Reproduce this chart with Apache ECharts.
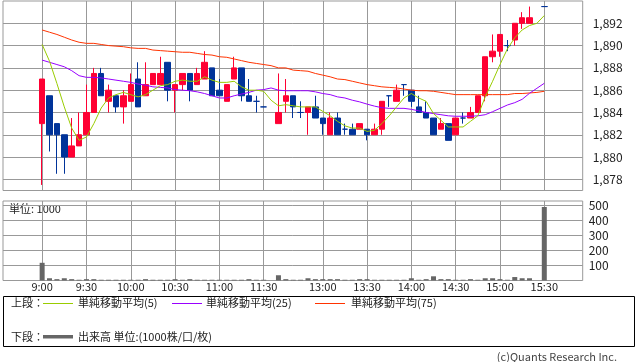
<!DOCTYPE html>
<html><head><meta charset="utf-8">
<script src="https://cdn.jsdelivr.net/npm/echarts@6/dist/echarts.min.js"></script>
<style>html,body{margin:0;padding:0;background:#fff}#c{width:638px;height:362px}</style>
</head><body><div id="c"></div><script>
const times = ['9:00','9:05','9:10','9:15','9:20','9:25','9:30','9:35','9:40','9:45','9:50','9:55',
 '10:00','10:05','10:10','10:15','10:20','10:25','10:30','10:35','10:40','10:45','10:50','10:55',
 '11:00','11:05','11:10','11:15','11:20','11:25','11:30','',
 '12:30','12:35','12:40','12:45','12:50','12:55','13:00','13:05','13:10','13:15','13:20','13:25',
 '13:30','13:35','13:40','13:45','13:50','13:55','14:00','14:05','14:10','14:15','14:20','14:25',
 '14:30','14:35','14:40','14:45','14:50','14:55','15:00','15:05','15:10','15:15','15:20','15:25','15:30'];
const open  = [1883,1885.5,1883,1882,1880,1881,1882,1884,1887.5,1885,1885.5,1884.5,1885,1887,1885.5,1886.5,
 1886.5,1888.5,1886,1886.5,1887.5,1886.5,1887,1888,1886,1885,1887,1888,1885.5,1885,1884.5,null,
 1883,1885,1885.5,1884,1884,1884.5,1883.5,1882,1883.5,1882.5,1882.5,1882.5,1882.5,1882,1882.5,1885.5,
 1885,1886.5,1886,1884.5,1884,1883.5,1882.5,1883,1882,1883.5,1883.5,1884,1885.5,1889,1889.5,1890,
 1890.5,1892,1892,null,1893.5];
const close = [1887,1882,1882,1880,1881,1882,1884,1887.5,1885.5,1886,1884.5,1885.5,1886.5,1884.5,1886.5,1887.5,
 1887.5,1886,1886.5,1887.5,1886,1887.5,1888.5,1885.5,1885.5,1886.5,1888,1885.5,1885,1885,1884.5,null,
 1884,1885.5,1884.5,1884,1884.5,1883.5,1883,1883.5,1882,1882.5,1882,1883,1882,1882.5,1885,1885.5,
 1886,1886.5,1885,1884,1883.5,1882,1883,1881.5,1883.5,1883.5,1884,1885.5,1889,1889.5,1891,1890,
 1892,1892.5,1892.5,null,1893.5];
const low   = [1877.5,1880.5,1878.5,1878.5,1880,1881,1882,1884,1885.5,1884,1884,1883,1885,1884.5,1885.5,1886.5,
 1886.5,1885,1884,1886,1885,1886.5,1887,1885.5,1885.5,1885,1887,1885,1885,1884,1884.5,null,
 1883,1884,1883.5,1883.5,1882,1883.5,1882,1882,1882,1882,1882,1882.5,1881.5,1882,1882,1884.5,
 1885,1885.5,1884.5,1884,1883.5,1882,1882.5,1881.5,1882,1883,1883.5,1884,1885,1888.5,1889,1889.5,
 1890,1891.5,1892,null,1893.5];
const high  = [1887,1885.5,1883,1882,1883.5,1884,1886.5,1888,1888,1886.5,1885.5,1886,1887.5,1888.5,1888.5,1887.5,
 1889,1888.5,1886.5,1887.5,1887.5,1888,1889.5,1888,1887,1886.5,1889,1888,1887,1885.5,1884.5,null,
 1887.5,1887,1885.5,1885,1884.5,1885.5,1883.5,1884,1884,1883,1883,1883,1882.5,1883,1885,1885.5,
 1886.5,1886.5,1886,1885.5,1885,1883.5,1883.5,1883,1883.5,1884,1884.5,1885.5,1889,1891,1891,1890.5,
 1892,1893,1893.5,null,1893.5];
const volume = [118,15,9,15,9,5,9,9,5,5,5,5,5,5,9,5,5,5,9,5,9,5,5,5,5,5,5,5,9,5,5,null,
 35,9,5,5,15,9,9,9,9,5,5,9,9,5,5,5,5,5,15,5,9,28,9,9,5,5,9,5,15,15,9,5,23,15,15,null,490];
const ma5 = [1890.1,1888.6,1886.6,1884.5,1882.6,1881.5,1881.8,1883.0,1884.4,1885.3,1885.6,1885.8,1885.6,1885.4,1885.6,1886.0,
 1886.4,1886.5,1886.8,1886.9,1886.8,1886.8,1887.2,1886.9,1886.7,1886.7,1886.8,1886.3,1886.0,1886.0,1885.9,1885.1,
 1884.6,1884.7,1884.6,1884.5,1884.5,1884.5,1884.1,1883.7,1883.2,1882.8,1882.6,1882.6,1882.3,1882.4,1883.0,1883.7,
 1884.5,1885.3,1885.7,1885.3,1885.0,1883.9,1883.3,1882.7,1882.7,1882.7,1883.2,1883.7,1885.4,1886.8,1888.3,1889.7,
 1890.7,1891.4,1891.8,1892.0,1892.7];
const ma25 = [1888.7,1888.5,1888.3,1888.1,1887.75,1887.3,1887.15,1887.15,1887.1,1887.0,1886.9,1886.8,1886.7,1886.55,1886.45,1886.3,
 1886.25,1886.2,1886.05,1886.0,1885.95,1885.85,1885.7,1885.5,1885.3,1885.3,1885.5,1885.65,1885.8,1886.0,1886.05,1886.2,
 1886.0,1885.95,1885.95,1885.95,1885.95,1885.85,1885.7,1885.6,1885.4,1885.3,1885.1,1884.95,1884.75,1884.57,1884.43,1884.37,
 1884.37,1884.37,1884.28,1884.15,1884.0,1883.9,1883.8,1883.7,1883.66,1883.66,1883.66,1883.7,1883.8,1884.07,1884.37,1884.67,
 1884.88,1885.18,1885.72,1886.17,1886.62];
const ma75 = [1891.4,1891.2,1891.0,1890.75,1890.5,1890.3,1890.2,1890.2,1890.1,1890.0,1889.95,1889.9,1889.8,1889.75,1889.75,1889.6,
 1889.55,1889.5,1889.45,1889.4,1889.4,1889.3,1889.2,1889.15,1889.0,1888.95,1888.8,1888.65,1888.5,1888.4,1888.3,1888.2,
 1888.0,1888.0,1887.8,1887.75,1887.7,1887.5,1887.35,1887.2,1887.0,1886.95,1886.8,1886.65,1886.5,1886.4,1886.3,1886.25,
 1886.2,1886.1,1886.0,1885.95,1885.95,1885.9,1885.8,1885.7,1885.6,1885.6,1885.6,1885.6,1885.6,1885.6,1885.6,1885.6,
 1885.7,1885.7,1885.75,1885.8,1885.9];
const timeTicks = ['9:00','9:30','10:00','10:30','11:00','11:30','13:00','13:30','14:00','14:30','15:00','15:30'];
const priceTicks = [1878,1880,1882,1884,1886,1888,1890,1892];
const volumeTicks = [100,200,300,400,500];

const FONT = '"Noto Sans CJK JP", "Noto Sans", sans-serif';
const GRID = '#999999';
const xTickVals = timeTicks.map(t => times.indexOf(t));
const candles = [];
times.forEach((t, i) => { if (open[i] != null) candles.push([i, open[i], close[i], low[i], high[i]]); });
const volData = [];
times.forEach((t, i) => { if (volume[i] != null) volData.push([i, volume[i]]); });
const pair = arr => arr.map((v, i) => [i, v]);

const xBase = (gi, showLabel) => ({
  type: 'value', gridIndex: gi, min: -5.3, max: 73.2,
  axisLine: {show: false},
  axisTick: {show: false, customValues: xTickVals},
  axisLabel: {show: showLabel, customValues: xTickVals, margin: 1, fontSize: 11, color: '#222', fontFamily: FONT,
    formatter: v => times[Math.round(v)] || ''},
  splitLine: {show: true, lineStyle: {color: GRID, width: 1}}
});

const chart = echarts.init(document.getElementById('c'), null, {renderer: 'canvas'});
chart.setOption({
  animation: false,
  textStyle: {fontFamily: FONT},
  grid: [
    {left: 3, right: 55.3, top: 1, height: 189.5, show: true, borderColor: GRID, borderWidth: 1},
    {left: 3, right: 55.3, top: 201, height: 79.5, show: true, borderColor: GRID, borderWidth: 1}
  ],
  xAxis: [xBase(0, false), xBase(1, true)],
  yAxis: [
    {type: 'value', gridIndex: 0, position: 'right', min: 1877, max: 1894, scale: true,
     axisLine: {show: false},
     axisTick: {show: true, inside: false, length: 4, customValues: priceTicks, lineStyle: {color: GRID}},
     axisLabel: {customValues: priceTicks, margin: 10, fontSize: 12, color: '#222', fontFamily: FONT,
       formatter: v => v.toLocaleString('en-US')},
     splitLine: {show: true, lineStyle: {color: GRID}}},
    {type: 'value', gridIndex: 1, position: 'right', min: 0, max: 530,
     axisLine: {show: false},
     axisTick: {show: true, inside: false, length: 5, customValues: volumeTicks, lineStyle: {color: GRID}},
     axisLabel: {customValues: volumeTicks, margin: 6, fontSize: 12, color: '#222', fontFamily: FONT},
     splitLine: {show: true, lineStyle: {color: GRID}}}
  ],
  series: [
    {type: 'candlestick', name: 'price', xAxisIndex: 0, yAxisIndex: 0, data: candles,
     encode: {x: 0, y: [1, 2, 3, 4]}, barWidth: 6,
     itemStyle: {color: '#ff0033', color0: '#003399', borderColor: '#ff0033', borderColor0: '#003399',
       borderColorDoji: '#003399', borderWidth: 1}, z: 3},
    {type: 'line', name: '単純移動平均(75)', xAxisIndex: 0, yAxisIndex: 0, data: pair(ma75), showSymbol: false,
     lineStyle: {color: '#ff3300', width: 1}, itemStyle: {color: '#ff3300'}, z: 4},
    {type: 'line', name: '単純移動平均(25)', xAxisIndex: 0, yAxisIndex: 0, data: pair(ma25), showSymbol: false,
     lineStyle: {color: '#9900ff', width: 1}, itemStyle: {color: '#9900ff'}, z: 4},
    {type: 'line', name: '単純移動平均(5)', xAxisIndex: 0, yAxisIndex: 0, data: pair(ma5), showSymbol: false,
     lineStyle: {color: '#99cc00', width: 1}, itemStyle: {color: '#99cc00'}, z: 5},
    {type: 'bar', name: '出来高', xAxisIndex: 1, yAxisIndex: 1, data: volData, barWidth: 5,
     itemStyle: {color: '#666666'}}
  ],
  graphic: [
    {type: 'text', left: 9, top: 203, style: {text: '単位: 1000', font: '11px ' + FONT, fill: '#222'}},
    {type: 'rect', shape: {x: 3.5, y: 296.5, width: 631, height: 50}, style: {fill: 'none', stroke: '#000', lineWidth: 1}},
    {type: 'text', x: 11, y: 303, style: {text: '上段：', font: '11px ' + FONT, fill: '#222', verticalAlign: 'middle'}},
    {type: 'line', shape: {x1: 43, y1: 303.5, x2: 73, y2: 303.5}, style: {stroke: '#99cc00', lineWidth: 1}},
    {type: 'text', x: 78, y: 303, style: {text: '単純移動平均(5)', font: '11px ' + FONT, fill: '#222', verticalAlign: 'middle'}},
    {type: 'line', shape: {x1: 172, y1: 303.5, x2: 202, y2: 303.5}, style: {stroke: '#9900ff', lineWidth: 1}},
    {type: 'text', x: 206, y: 303, style: {text: '単純移動平均(25)', font: '11px ' + FONT, fill: '#222', verticalAlign: 'middle'}},
    {type: 'line', shape: {x1: 315, y1: 303.5, x2: 345, y2: 303.5}, style: {stroke: '#ff3300', lineWidth: 1}},
    {type: 'text', x: 351, y: 303, style: {text: '単純移動平均(75)', font: '11px ' + FONT, fill: '#222', verticalAlign: 'middle'}},
    {type: 'text', x: 11, y: 336.5, style: {text: '下段：', font: '11px ' + FONT, fill: '#222', verticalAlign: 'middle'}},
    {type: 'rect', shape: {x: 43, y: 335, width: 30, height: 3.5}, style: {fill: '#666666'}},
    {type: 'text', x: 78, y: 336.5, style: {text: '出来高 単位:(1000株/口/枚)', font: '11px ' + FONT, fill: '#222', verticalAlign: 'middle'}},
    {type: 'text', x: 617, y: 357, style: {text: '(c)Quants Research Inc.', font: '11px ' + FONT, fill: '#444', align: 'right', verticalAlign: 'middle'}}
  ]
});
</script></body></html>
